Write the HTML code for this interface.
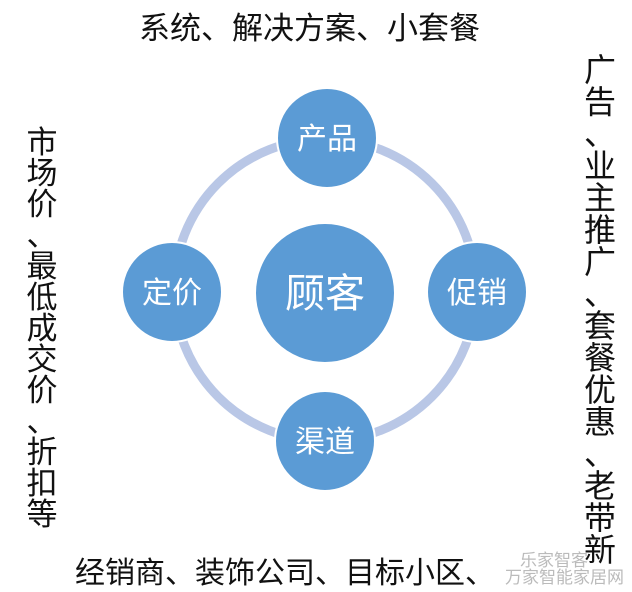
<!DOCTYPE html>
<html><head><meta charset="utf-8"><style>
html,body{margin:0;padding:0;background:#fff;}
body{width:632px;height:586px;overflow:hidden;position:relative;font-family:"Liberation Sans","Noto Sans CJK SC",sans-serif;}
.t{position:absolute;color:#111;white-space:nowrap;}
.v{position:absolute;color:#111;width:34px;text-align:center;}
.v span{display:block;}
</style></head><body>
<svg width="632" height="586" style="position:absolute;left:0;top:0">
<circle cx="325" cy="290" r="151" fill="none" stroke="#b9c7e6" stroke-width="9"/>
<circle cx="325" cy="293" r="70" fill="#5b9bd5" stroke="#fff" stroke-width="2"/>
<circle cx="327" cy="138" r="50" fill="#5b9bd5" stroke="#fff" stroke-width="2"/>
<circle cx="325" cy="441" r="50" fill="#5b9bd5" stroke="#fff" stroke-width="2"/>
<circle cx="172" cy="292" r="50" fill="#5b9bd5" stroke="#fff" stroke-width="2"/>
<circle cx="477" cy="292" r="50" fill="#5b9bd5" stroke="#fff" stroke-width="2"/>
<g fill="#fff" font-family="Liberation Sans, Noto Sans CJK SC, sans-serif" text-anchor="middle">
<text x="325" y="307" font-size="40">顾客</text>
<text x="327" y="149" font-size="30">产品</text>
<text x="325" y="452" font-size="30">渠道</text>
<text x="172" y="303" font-size="30">定价</text>
<text x="477" y="303" font-size="30">促销</text>
</g>
</svg>
<div class="t" style="left:139px;top:3px;font-size:31px;">系统、解决方案、小套餐</div>
<div class="v" style="left:25px;top:127px;font-size:31px;line-height:31px;"><span>市</span><span>场</span><span>价</span><span>、</span><span>最</span><span>低</span><span>成</span><span>交</span><span>价</span><span>、</span><span>折</span><span>扣</span><span>等</span></div>
<div class="v" style="left:583px;top:54px;font-size:32px;line-height:32px;"><span>广</span><span>告</span><span>、</span><span>业</span><span>主</span><span>推</span><span>广</span><span>、</span><span>套</span><span>餐</span><span>优</span><span>惠</span><span>、</span><span>老</span><span>带</span><span>新</span></div>
<div class="t" style="left:75px;top:548px;font-size:30px;">经销商、装饰公司、目标小区、</div>
<div class="t" style="left:520px;top:546px;font-size:17px;color:#bbb;">乐家智客</div>
<div class="t" style="left:505px;top:563px;font-size:17px;color:#bbb;">万家智能家居网</div>
</body></html>
